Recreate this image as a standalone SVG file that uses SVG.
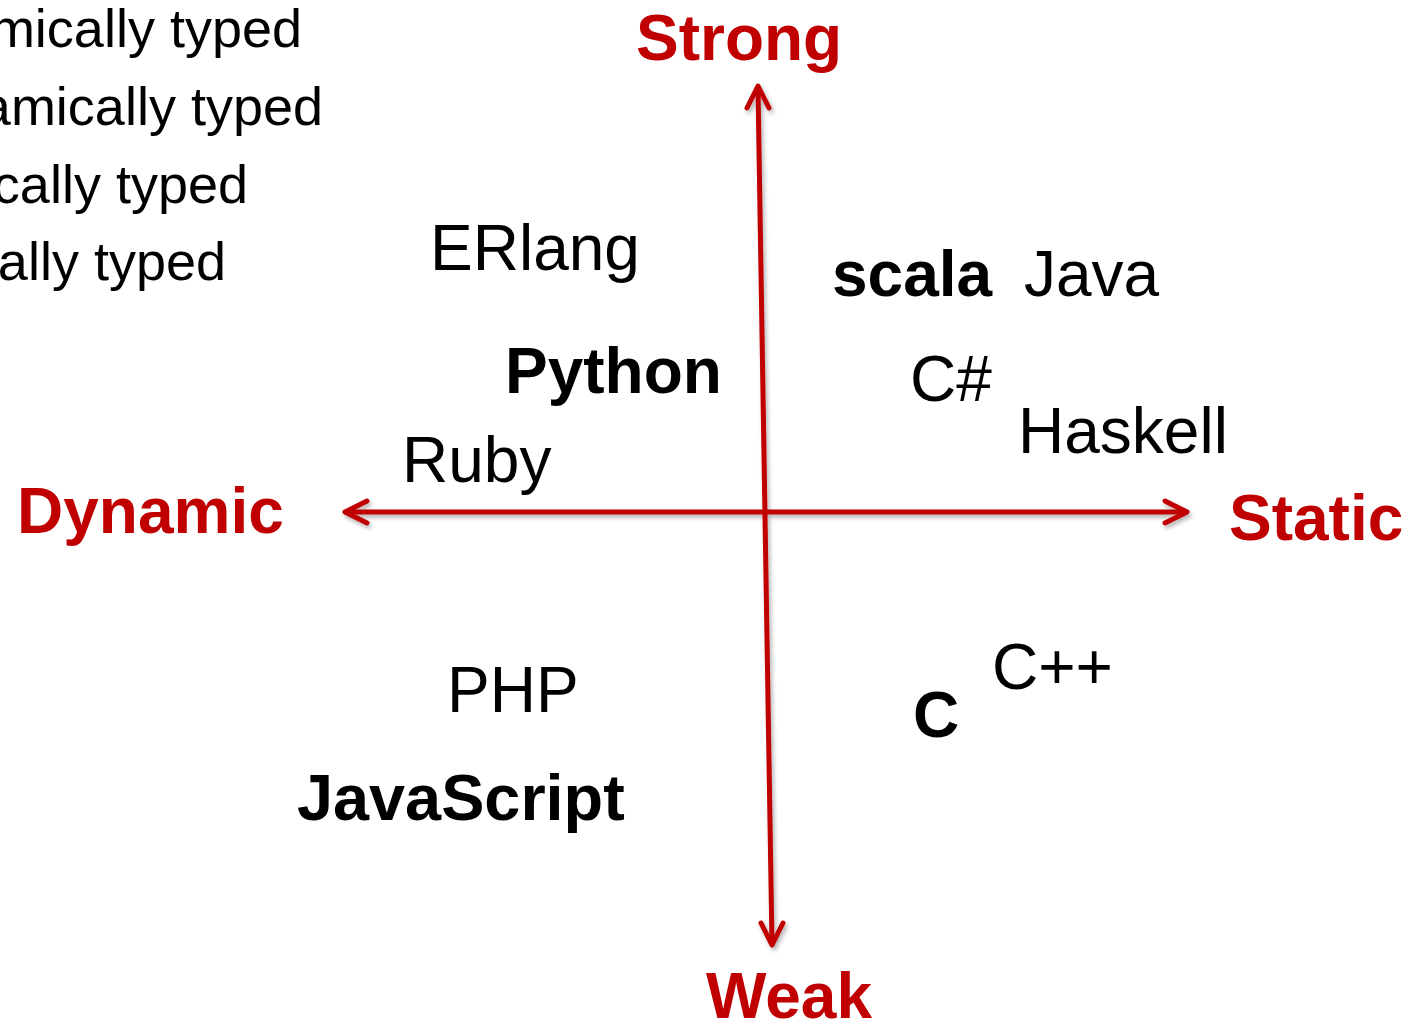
<svg xmlns="http://www.w3.org/2000/svg" width="1424" height="1023" viewBox="0 0 1424 1023">
<style>
.t{font-family:"Liberation Sans",Arial,sans-serif;font-size:64px;fill:#000}
.b{font-weight:bold}
.ax{font-family:"Liberation Sans",Arial,sans-serif;font-size:64px;font-weight:bold;fill:#C00000}
.side{font-family:"Liberation Sans",Arial,sans-serif;font-size:54px;fill:#000;text-anchor:end}
.ln{stroke:#C00000;stroke-width:5;fill:none;stroke-linecap:round;stroke-linejoin:round}
</style>
<defs>
<filter id="sh" x="-10%" y="-10%" width="120%" height="120%">
<feDropShadow dx="2" dy="3" stdDeviation="2" flood-color="#000" flood-opacity="0.3"/>
</filter>
</defs>
<rect width="1424" height="1023" fill="#fff"/>
<g id="legend">
<text class="side" x="302" y="47">mically typed</text>
<text class="side" x="323" y="125">amically typed</text>
<text class="side" x="248" y="203">cally typed</text>
<text class="side" x="226" y="280">ally typed</text>
</g>
<g id="connectors" filter="url(#sh)">
<path class="ln" d="M758,88 L772,944"/>
<path class="ln" d="M747,108 L758,86 L769,108"/>
<path class="ln" d="M761,923 L772,945 L783,923"/>
<path class="ln" d="M346,512 L1185,512"/>
<path class="ln" d="M367,501 L345,512 L367,523"/>
<path class="ln" d="M1165,501 L1187,512 L1165,523"/>
</g>
<g id="axis-strong"><text class="ax" x="636" y="60">Strong</text></g>
<g id="axis-weak"><text class="ax" x="706" y="1018">Weak</text></g>
<g id="axis-dynamic"><text class="ax" x="17" y="533">Dynamic</text></g>
<g id="axis-static"><text class="ax" x="1229" y="540">Static</text></g>
<g id="erlang"><text class="t" x="430" y="270">ERlang</text></g>
<g id="scala"><text class="t b" x="832" y="296">scala</text></g>
<g id="java"><text class="t" x="1024" y="296">Java</text></g>
<g id="python"><text class="t b" x="505" y="393">Python</text></g>
<g id="csharp"><text class="t" x="910" y="401">C#</text></g>
<g id="haskell"><text class="t" x="1018" y="453">Haskell</text></g>
<g id="ruby"><text class="t" x="402" y="482">Ruby</text></g>
<g id="php"><text class="t" x="447" y="712">PHP</text></g>
<g id="javascript"><text class="t b" x="297" y="820" style="font-size:64.8px">JavaScript</text></g>
<g id="c"><text class="t b" x="913" y="737">C</text></g>
<g id="cpp"><text class="t" x="992" y="689">C++</text></g>
</svg>
